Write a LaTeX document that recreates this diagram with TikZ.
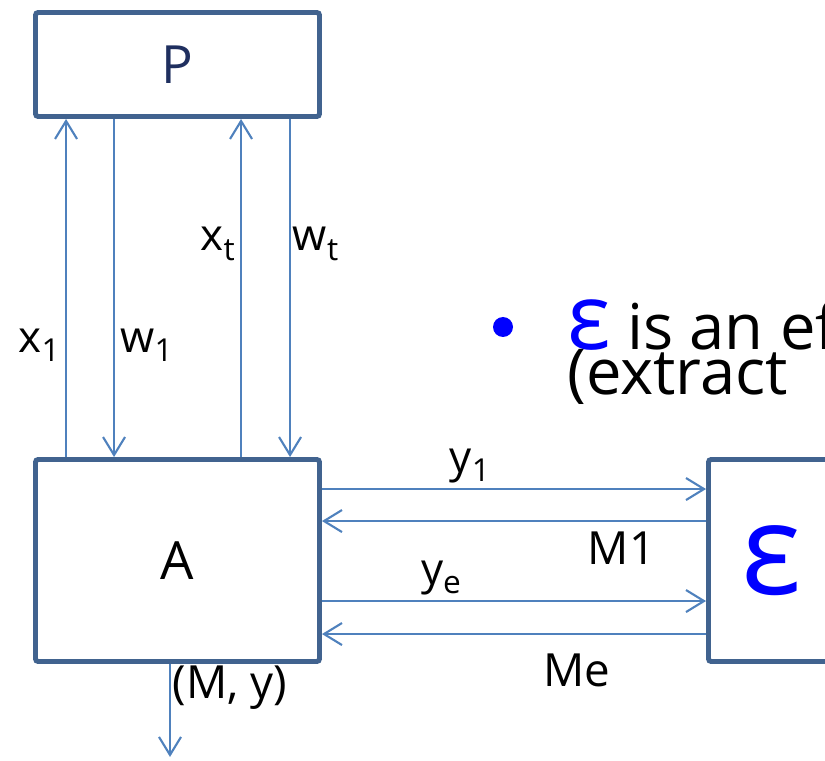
\documentclass[tikz,border=0pt]{standalone}
\usepackage{fontspec}
\setmainfont{Open Sans}
\usetikzlibrary{arrows.meta,calc,positioning}
\definecolor{boxblue}{HTML}{41638F}
\definecolor{flowblue}{HTML}{4F81BD}
\definecolor{navy}{HTML}{1F2F5F}
\newcommand{\lsub}[1]{\raisebox{-0.4ex}{\fontsize{18}{18}\selectfont #1}}

\begin{document}
\begin{tikzpicture}[>={Straight Barb[length=0.36cm,width=0.44cm]},
  party/.style={draw=boxblue,line width=2.8pt,rounded corners=1.5pt,inner sep=0pt},
  flow/.style={->,draw=flowblue,line width=1.2pt},
  lbl/.style={font=\fontsize{25}{25}\selectfont,inner sep=3pt},
  msg/.style={font=\fontsize{26}{26}\selectfont,inner sep=3pt}]
  \useasboundingbox (0,0) rectangle (16.5,15.2);
  \clip (0,0) rectangle (16.5,15.2);
  \node[party,minimum width=5.68cm,minimum height=2.08cm,text=navy,
  font=\fontsize{30}{30}\selectfont] (P) at (3.55,13.91) {P};
  \node[party,minimum width=5.68cm,minimum height=4.04cm,
  font=\fontsize{30}{30}\selectfont] (A) at (3.55,3.99) {A};
  \node[party,minimum width=2.54cm,minimum height=4.04cm,text=blue,
  font=\fontsize{72}{72}\selectfont] (E) at (15.44,3.99) {ε};
  % queries up, answers down
  \draw[flow] ([xshift=0.66cm]A.north west) -- node[lbl,pos=0.33,left] {x\lsub{1}}
  ([xshift=0.66cm]P.south west);
  \draw[flow] ([xshift=1.62cm]P.south west) -- node[lbl,pos=0.67,right] {w\lsub{1}}
  ([xshift=1.62cm]A.north west);
  \draw[flow] ([xshift=4.16cm]A.north west) -- node[lbl,pos=0.63,left] {x\lsub{t}}
  ([xshift=4.16cm]P.south west);
  \draw[flow] ([xshift=5.14cm]P.south west) -- node[lbl,pos=0.37,right,inner sep=1pt] {w\lsub{t}}
  ([xshift=5.14cm]A.north west);
  % talk to the extractor
  \draw[flow] ([yshift=-0.64cm]A.north east) -- node[lbl,pos=0.385,above] {y\lsub{1}}
  ([yshift=-0.64cm]E.north west);
  \draw[flow] ([yshift=-1.28cm]E.north west) -- node[msg,pos=0.22,below=0.1cm] {M1}
  ([yshift=-1.28cm]A.north east);
  \draw[flow] ([yshift=-2.88cm]A.north east) -- node[lbl,pos=0.31,above] {y\lsub{e}}
  ([yshift=-2.88cm]E.north west);
  \draw[flow] ([yshift=-3.54cm]E.north west) -- node[msg,pos=0.336,below=0.28cm] {Me}
  ([yshift=-3.54cm]A.north east);
  \coordinate (out) at ($(A.south)+(-0.15,-1.86)$);
  \draw[flow] ([xshift=-0.15cm]A.south) -- node[msg,pos=0.26,right,inner sep=1pt] {(M, y)} (out);
  % bullet
  \node[circle,fill=blue,minimum size=0.4cm,inner sep=0pt] (dot) at (10.06,8.66) {};
  \node[anchor=base west,inner sep=0pt,font=\fontsize{36}{36}\selectfont] (claim) at (11.34,8.2)
  {{\color{blue}\fontsize{52}{52}\selectfont ε} is an ef};
  \node[anchor=base west,inner sep=0pt,font=\fontsize{36}{36}\selectfont] (claim2) at (11.34,7.3)
  {(extract};
\end{tikzpicture}
\end{document}
